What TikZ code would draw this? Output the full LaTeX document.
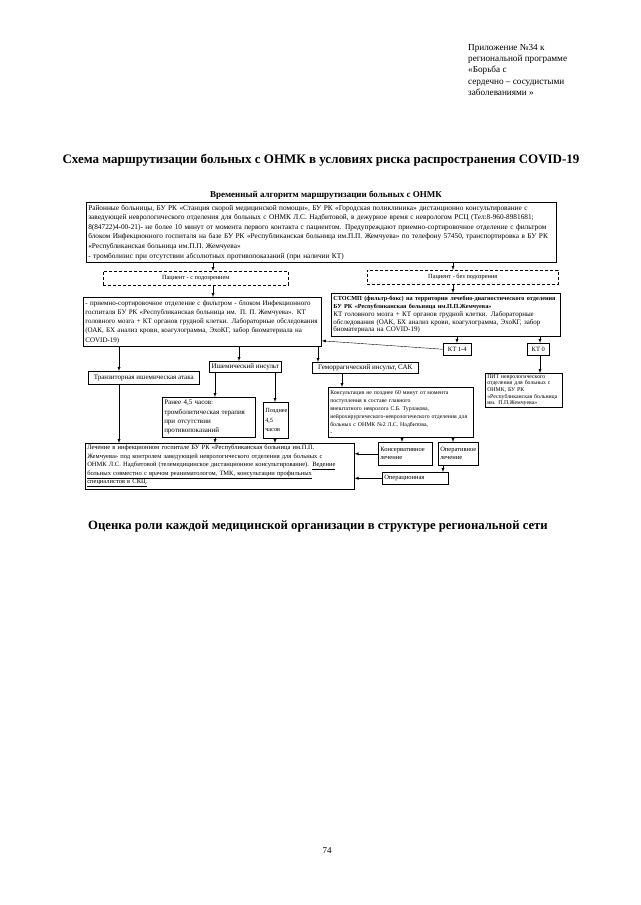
\documentclass[tikz,border=0pt]{standalone}
\usepackage{fontspec}
\setmainfont{Liberation Serif}
\usetikzlibrary{arrows}
\newcommand\jst{\tolerance=9999\rightskip=0pt\leftskip=0pt\parfillskip=0pt plus 1fil\relax}

\begin{document}
\begin{tikzpicture}[
  x = 1pt, y = -1pt,
  > = latex,
  frame/.style = {draw,line width=.5pt,anchor=north west,inner xsep=2pt,inner ysep=1pt},
  box/.style = {frame,align=left,font=\fontsize{7}{9.3}\selectfont},
  jbox/.style = {frame,font=\fontsize{7}{9.3}\selectfont},
  patbox/.style = {box,densely dashed,align=center,minimum height=14pt,font=\fontsize{6.3}{7}\selectfont},
  small/.style = {font=\fontsize{6.5}{8}\selectfont}
  ]
  \useasboundingbox (0,0) rectangle (640,905);

  \node[anchor=north west,align=left,inner sep=0pt,font=\fontsize{9.2}{11.3}\selectfont] (@note) at (468,44)
    {Приложение №34 к\\региональной программе\\«Борьба с\\сердечно – сосудистыми\\заболеваниями »};
  \node[font=\bfseries\fontsize{13}{15}\selectfont] (@title) at (321,160)
    {Схема маршрутизации больных с ОНМК в условиях риска распространения COVID-19};
  \node[font=\bfseries\fontsize{9}{10}\selectfont] (@sub) at (326,195)
    {Временный алгоритм маршрутизации больных с ОНМК};

  % boxes
  \node[jbox,text width=466pt,minimum height=60pt,font=\fontsize{7.3}{9.6}\selectfont] (@top) at (86,202)
    {\jst Районные больницы, БУ РК «Станция скорой медицинской помощи», БУ РК «Городская поликлиника» дистанционно консультирование с\linebreak
     заведующей неврологического отделения для больных с ОНМК Л.С. Надбитовой, в дежурное время с неврологом РСЦ (Тел:8-960-8981681;\linebreak
     8(84722)4-00-21)- не более 10 минут от момента первого контакта с пациентом. Предупреждают приемно-сортировочное отделение с фильтром\linebreak
     блоком Инфекционного госпиталя на базе БУ РК «Республиканская больница им.П.П. Жемчуева» по телефону 57450, транспортировка в БУ РК\newline
     «Республиканская больница им.П.П. Жемчуева»\newline
     - тромболизис при отсутствии абсолютных противопоказаний (при наличии КТ)};
  \node[patbox,minimum width=185pt] (@susp) at (103,271) {Пациент - с подозрением};
  \node[patbox,minimum width=191pt] (@nosusp) at (367,270) {Пациент - без подозрения};
  \node[jbox,text width=234pt,minimum height=49pt,line width=.8pt] (@left) at (83,297)
    {\jst - приемно-сортировочное отделение с фильтром - блоком Инфекционного\linebreak
     госпиталя БУ РК «Республиканская больница им. П. П. Жемчуева». КТ\linebreak
     головного мозга + КТ органов грудной клетки. Лабораторные обследования\linebreak
     (ОАК, БХ анализ крови, коагулограмма, ЭхоКГ, забор биоматериала на\newline
     COVID-19)};
  \node[box,text width=225pt,minimum height=43pt,line width=.8pt,font=\fontsize{7}{7.8}\selectfont] (@right) at (331,293)
    {{\bfseries\fontsize{6.2}{7}\selectfont СТОСМП (фильтр-бокс) на территории лечебно-диагностического отделения\\
     БУ РК «Республиканская больница им.П.П.Жемчуева»}\\
     КТ головного мозга + КТ органов грудной клетки. Лабораторные\\
     обследования (ОАК, БХ анализ крови, коагулограмма, ЭхоКГ, забор\\
     биоматериала на COVID-19)};
  \node[box,small,minimum width=28pt,minimum height=12pt] (@kt14) at (443,343) {КТ 1-4};
  \node[box,small,minimum width=22pt,minimum height=12pt] (@kt0) at (527,343) {КТ 0};
  \node[box,text width=73pt,minimum height=34pt,font=\fontsize{5.8}{6.7}\selectfont] (@pit) at (485,373)
    {ПИТ неврологического\\отделения для больных с\\ОНМК, БУ РК\\«Республиканская больница\\им. П.П.Жемчуева»};
  \node[box,minimum width=111pt,minimum height=13pt,align=center] (@tia) at (88,371) {Транзиторная ишемическая атака};
  \node[box,minimum width=72pt,minimum height=11pt,align=center] (@isch) at (209,361) {Ишемический инсульт};
  \node[box,minimum width=106pt,minimum height=11pt,align=center] (@hem) at (312,362) {Геморрагический инсульт, САК};
  \node[box,text width=89pt,minimum height=40pt] (@early) at (162,397)
    {Ранее 4,5 часов:\\тромболитическая терапия\\при отсутствии\\противопоказаний};
  \node[box,text width=21pt,minimum height=36pt,font=\fontsize{6.3}{9.3}\selectfont] (@late) at (263,402)
    {Позднее\\4,5\\часов};
  \node[box,text width=141pt,minimum height=50pt,font=\fontsize{5.8}{8}\selectfont] (@cons) at (328,387)
    {Консультация не позднее 60 минут от момента\\
     поступления в составе главного\\
     внештатного невролога С.Б. Турлакова,\\
     нейрохирургического-неврологического отделения для\\
     больных с ОНМК №2 Л.С. Надбитова,\\
     -};
  \node[box,small,text width=50pt,minimum height=23pt] (@conserv) at (378,442) {Консервативное\\лечение};
  \node[box,small,text width=36pt,minimum height=23pt] (@oper) at (438,442) {Оперативное\\лечение};
  \node[box,small,text width=62pt,minimum height=12pt] (@opnaya) at (382,472) {Операционная};
  \node[box,text width=265pt,minimum height=46pt,font=\fontsize{6.5}{8.5}\selectfont] (@bot) at (85,443)
    {Лечение в инфекционном госпитале БУ РК «Республиканская больница им.П.П.\\
     Жемчуева» под контролем заведующей неврологического отделения для больных с\\
     ОНМК Л.С. Надбитовой (телемедицинское дистанционное консультирование). \underline{Ведение}\\
     \underline{больных совместно с врачом реаниматологом, ТМК, консультации профильных}\\
     \underline{специалистов в СКЦ.}};

  \node[font=\bfseries\fontsize{12.7}{14}\selectfont] (@head) at (318,526)
    {Оценка роли каждой медицинской организации в структуре региональной сети};
  \node[font=\fontsize{9}{11}\selectfont] (@page) at (327,851) {74};

  % columns of the connectors
  \coordinate (c1) at (213,0);
  \coordinate (c2) at (453,0);
  \coordinate (c3) at (457,0);
  \coordinate (c4) at (540,0);
  \coordinate (c5) at (119,0);
  \coordinate (c6) at (239,0);
  \coordinate (c7) at (318,0);
  \coordinate (c8) at (215,0);
  \coordinate (c9) at (275,0);
  \coordinate (c10) at (342,0);
  \coordinate (c11) at (402,0);
  \coordinate (c12) at (443,0);

  \draw[->] (@top.south -| c1) -- (@susp.north -| c1);
  \draw[->] (@top.south -| c2) -- (@nosusp.north -| c2);
  \draw[->] (@susp.south -| c1) -- (@left.north -| c1);
  \draw[->] (@nosusp.south -| c2) -- (@right.north -| c2);
  \draw[->] (@right.south -| c3) -- (@kt14.north -| c3);
  \draw[->] (@right.south -| c4) -- (@kt0.north -| c4);
  \draw[->] (@kt0.south -| c4) -- (@pit.north -| c4);
  \draw[->] (@kt14.west) -- ([yshift=6pt]@left.south east);

  \draw[->] (@left.south -| c5) -- (@tia.north -| c5);
  \draw[->] (@tia.south -| c5) -- (@bot.north -| c5);
  \draw[->] (@left.south -| c6) -- (@isch.north -| c6);
  \draw[->] (@left.south -| c7) -- (@hem.north -| c7);
  \draw[->] (@isch.south -| c8) -- (@early.north -| c8);
  \draw[->] (@isch.south -| c9) -- (@late.north -| c9);
  \draw[->] (@early.south -| c8) -- (@bot.north -| c8);
  \draw[->] (@late.south -| c9) -- (@bot.north -| c9);
  \draw[->] (@hem.south -| c10) -- (@cons.north -| c10);
  \draw[->] (@cons.south -| c11) -- (@conserv.north -| c11);
  \draw[->] (@cons.south -| c2) -- (@oper.north -| c2);
  \draw[->] (@oper.south -| c12) -- (@opnaya.north -| c12);
  \draw[->] (@conserv.west) -- (@bot.east |- @conserv.west);
  \draw[->] (@opnaya.west) -- (@bot.east |- @opnaya.west);
\end{tikzpicture}
\end{document}
